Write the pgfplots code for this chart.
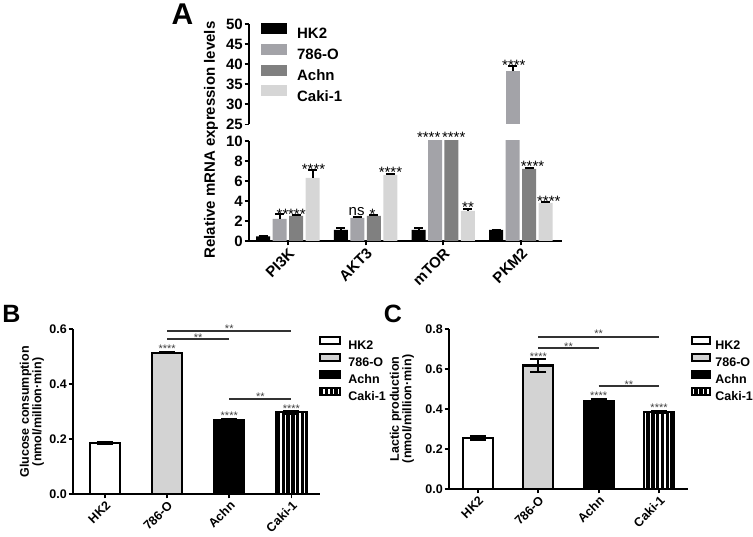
\documentclass[border=0pt]{standalone}
\usepackage{fontspec}
\setmainfont{Liberation Sans}
\usepackage{pgfplots}
\pgfplotsset{compat=1.18}
\usetikzlibrary{patterns.meta}

\definecolor{cA2}{RGB}{163,163,168}
\definecolor{cA3}{RGB}{128,128,128}
\definecolor{cA4}{RGB}{214,214,214}
\definecolor{cB2}{RGB}{211,211,211}
\definecolor{brk}{RGB}{50,50,50}

\newcommand{\fs}[1]{\fontsize{#1}{#1}\selectfont}

\pgfplotsset{
  common/.style={
    scale only axis, axis lines*=left, tick align=outside,
    axis line style={line width=1.8pt, black},
    major tick style={line width=1.8pt, black},
    major tick length=4.5pt,
    /pgf/number format/assume math mode=true,
    clip mode=individual,
  },
  Aerr/.style={error bars/.cd, y dir=plus, y explicit,
    error bar style={line width=2pt, black},
    error mark options={rotate=90, line width=2pt, mark size=4.5pt, black}},
  Berr/.style={error bars/.cd, y dir=both, y explicit,
    error bar style={line width=2pt, black},
    error mark options={rotate=90, line width=2pt, mark size=8pt, black}},
  Abar/.style={ybar, bar width=14pt, bar shift=0pt, draw=none, fill=#1},
  Bbar/.style={ybar, bar width=30pt, bar shift=0pt, draw=black, line width=2.2pt, fill=#1},
  Bstripe/.style={ybar, bar width=30pt, bar shift=0pt, draw=black, line width=2.2pt,
    pattern={Lines[angle=90,distance=4.8pt,line width=3.4pt]}, pattern color=black},
  Axaxis/.style={xmin=-0.502, xmax=3.53, width=313pt},
  onedec/.style={yticklabel style={inner sep=1.5pt,
    /pgf/number format/fixed, /pgf/number format/fixed zerofill, /pgf/number format/precision=1}},
}

\begin{document}
\begin{tikzpicture}
\path[use as bounding box] (0pt,0pt) rectangle (753pt,537pt);

% ---------------- Panel A, lower part ----------------
\begin{axis}[common, Axaxis, at={(249pt,296pt)}, anchor=south west, height=100pt,
  ymin=0, ymax=10, ytick={0,2,4,6,8,10},
  xtick={0,1,2,3}, xticklabels={PI3K,AKT3,mTOR,PKM2},
  ticklabel style={font=\bfseries\fs{15}},
  xticklabel style={rotate=45, anchor=north east, inner sep=1pt},
  yticklabel style={inner sep=1.5pt},
]
% HK2
\addplot[Abar=black, Aerr] coordinates {
 (-0.3185,0.45) +- (0,0.05) (0.6815,1.1) +- (0,0.15) (1.6815,1.1) +- (0,0.2) (2.6815,1.1) +- (0,0.03)};
% 786-O
\addplot[Abar=cA2, Aerr] coordinates {
 (-0.106,2.2) +- (0,0.5) (0.894,2.3) +- (0,0.05) (1.894,12.5) +- (0,0) (2.894,38.3) +- (0,1.2)};
% Achn
\addplot[Abar=cA3, Aerr] coordinates {
 (0.106,2.5) +- (0,0.1) (1.106,2.5) +- (0,0.08) (2.106,12.5) +- (0,0) (3.106,7.2) +- (0,0.1)};
% Caki-1
\addplot[Abar=cA4, Aerr] coordinates {
 (0.3185,6.3) +- (0,0.8) (1.3185,6.6) +- (0,0.1) (2.3185,3.0) +- (0,0.2) (3.3185,3.8) +- (0,0.1)};
\begin{scope}[every node/.style={font=\fs{15}, anchor=base, inner sep=0pt}]
\node at (axis cs:-0.07,2.14) {**};
\node at (axis cs:0.115,2.14) {***};
\node at (axis cs:0.33,6.67) {****};
\node at (axis cs:0.884,2.5) {ns};
\node at (axis cs:1.09,2.14) {*};
\node at (axis cs:1.32,6.34) {****};
\node at (axis cs:1.813,9.84) {****};
\node at (axis cs:2.135,9.84) {****};
\node at (axis cs:2.32,2.84) {**};
\node at (axis cs:3.15,6.94) {****};
\node at (axis cs:3.36,3.44) {****};
\end{scope}
\end{axis}

% ---------------- Panel A, upper part ----------------
\begin{axis}[common, Axaxis, at={(249pt,412.5pt)}, anchor=south west, height=100.5pt,
  axis x line=none, axis y line*=left, xtick=\empty,
  ymin=25, ymax=50, ytick={25,30,35,40,45,50},
  ticklabel style={font=\bfseries\fs{15}},
  yticklabel style={inner sep=1.5pt},
  legend style={draw=none, fill=none, at={(0.038,1.01)}, anchor=north west,
    inner sep=0pt, row sep=5pt, column sep=10pt, font=\bfseries\fs{15},
    nodes={inner sep=0pt, text height=10.5pt, text depth=0pt}},
  legend cell align=left,
  legend image code/.code={\path[#1] (0pt,-0.5pt) rectangle (26pt,10.5pt);},
]
\addlegendimage{fill=black, draw=none}
\addlegendimage{fill=cA2, draw=none}
\addlegendimage{fill=cA3, draw=none}
\addlegendimage{fill=cA4, draw=none}
\legend{HK2,786-O,Achn,Caki-1}
% 786-O, PKM2 (the only bar above the break)
\addplot[forget plot, Abar=cA2, Aerr] coordinates {(2.894,38.3) +- (0,1.2)};
\node[font=\fs{15}, anchor=base, inner sep=0pt] at (axis cs:2.91,38.35) {****};
\end{axis}

\node[rotate=90, font=\bfseries\fs{15}] at (211pt,397pt) {Relative mRNA expression levels};
\node[font=\bfseries\fs{30}, inner sep=0pt] at (182.5pt,523pt) {A};

% ---------------- Panel B ----------------
\begin{axis}[common, onedec, at={(73pt,43pt)}, anchor=south west, width=247pt, height=165pt,
  xmin=-0.515, xmax=3.46, ymin=0, ymax=0.6, ytick={0,0.2,0.4,0.6},
  xtick={0,1,2,3}, xticklabels={HK2,786-O,Achn,Caki-1},
  ticklabel style={font=\bfseries\fs{12.5}},
  xticklabel style={rotate=45, anchor=north east, inner sep=1pt},
  legend style={draw=none, fill=none, at={(0.996,0.958)}, anchor=north west,
    inner sep=0pt, row sep=3.3pt, column sep=7pt, font=\bfseries\fs{12.5},
    nodes={inner sep=0pt, text height=9pt, text depth=0pt}},
  legend cell align=left,
  legend image code/.code={\path[#1] (0pt,1pt) rectangle (20pt,8pt);},
]
\addplot[Bbar=white, Berr] coordinates {(0,0.185) +- (0,0.005)};
\addplot[Bbar=cB2, Berr] coordinates {(1,0.513) +- (0,0.002)};
\addplot[Bbar=black, Berr] coordinates {(2,0.268) +- (0,0.004)};
\addplot[Bstripe, Berr] coordinates {(3,0.297) +- (0,0.006)};
\legend{HK2,786-O,Achn,Caki-1}
\draw[line width=1.5pt, brk] (axis cs:1,0.5927) -- (axis cs:3,0.5927);
\draw[line width=1.5pt, brk] (axis cs:1,0.5636) -- (axis cs:2,0.5636);
\draw[line width=1.5pt, brk] (axis cs:2,0.3455) -- (axis cs:3,0.3455);
\begin{scope}[every node/.style={font=\fs{11}, text=black!75, anchor=base, inner sep=0pt}]
\node at (axis cs:2,0.588) {**};
\node at (axis cs:1.5,0.553) {**};
\node at (axis cs:2.5,0.3407) {**};
\node at (axis cs:1,0.515) {****};
\node at (axis cs:2,0.2716) {****};
\node at (axis cs:3,0.297) {****};
\end{scope}
\end{axis}
\node[rotate=90, font=\bfseries\fs{12.5}, align=center] at (32pt,125pt) {Glucose consumption\\(nmol/million·min)};
\node[font=\bfseries\fs{25}, inner sep=0pt] at (11.5pt,223pt) {B};

% ---------------- Panel C ----------------
\begin{axis}[common, onedec, at={(449pt,48pt)}, anchor=south west, width=239pt, height=160pt,
  xmin=-0.48, xmax=3.48, ymin=0, ymax=0.8, ytick={0,0.2,0.4,0.6,0.8},
  xtick={0,1,2,3}, xticklabels={HK2,786-O,Achn,Caki-1},
  ticklabel style={font=\bfseries\fs{12.5}},
  xticklabel style={rotate=45, anchor=north east, inner sep=1pt},
  legend style={draw=none, fill=none, at={(1.0126,0.956)}, anchor=north west,
    inner sep=0pt, row sep=3.3pt, column sep=4pt, font=\bfseries\fs{12.5},
    nodes={inner sep=0pt, text height=9pt, text depth=0pt}},
  legend cell align=left,
  legend image code/.code={\path[#1] (0pt,1pt) rectangle (18pt,8pt);},
]
\addplot[Bbar=white, Berr] coordinates {(0,0.255) +- (0,0.01)};
\addplot[Bbar=cB2, Berr] coordinates {(1,0.617) +- (0,0.033)};
\addplot[Bbar=black, Berr] coordinates {(2,0.44) +- (0,0.012)};
\addplot[Bstripe, Berr] coordinates {(3,0.385) +- (0,0.005)};
\legend{HK2,786-O,Achn,Caki-1}
\draw[line width=1.5pt, brk] (axis cs:1,0.76) -- (axis cs:3,0.76);
\draw[line width=1.5pt, brk] (axis cs:1,0.705) -- (axis cs:2,0.705);
\draw[line width=1.5pt, brk] (axis cs:2,0.515) -- (axis cs:3,0.515);
\begin{scope}[every node/.style={font=\fs{11}, text=black!75, anchor=base, inner sep=0pt}]
\node at (axis cs:2,0.755) {**};
\node at (axis cs:1.5,0.6935) {**};
\node at (axis cs:2.5,0.502) {**};
\node at (axis cs:1,0.6435) {****};
\node at (axis cs:2,0.447) {****};
\node at (axis cs:3,0.387) {****};
\end{scope}
\end{axis}
\node[rotate=90, font=\bfseries\fs{12.5}, align=center] at (402pt,128pt) {Lactic production\\(nmol/million·min)};
\node[font=\bfseries\fs{25}, inner sep=0pt] at (393pt,223pt) {C};

\end{tikzpicture}
\end{document}
